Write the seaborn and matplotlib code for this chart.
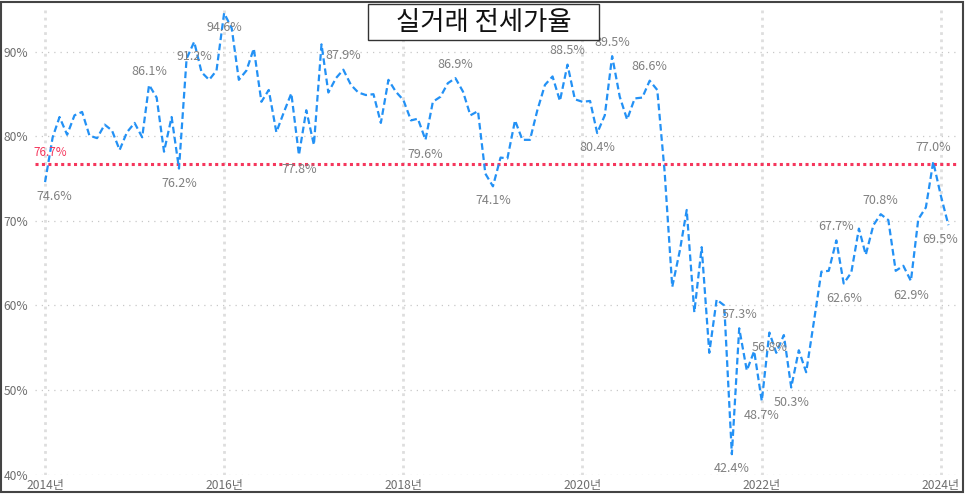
import matplotlib
matplotlib.use("Agg")
import matplotlib.pyplot as plt
from matplotlib.patches import Rectangle
import seaborn as sns
import pandas as pd

# ---- data (monthly, 2014-01 .. 2024-02) ----
values = [
    74.6, 79.9, 82.3, 80.2, 82.5, 82.9, 80.1, 79.8, 81.4, 80.7, 78.4, 80.5,   # 2014
    81.6, 79.9, 86.1, 84.6, 78.2, 82.3, 76.2, 89.2, 91.2, 87.6, 86.7, 87.8,   # 2015
    94.6, 92.8, 86.7, 87.8, 90.4, 84.1, 85.5, 80.5, 82.9, 85.1, 77.8, 83.1,   # 2016
    79.0, 90.9, 85.2, 86.9, 87.9, 86.1, 85.2, 84.9, 85.0, 81.6, 86.7, 85.3,   # 2017
    84.3, 81.9, 82.1, 79.6, 84.1, 84.7, 86.3, 86.9, 85.3, 82.5, 83.0, 75.6,   # 2018
    74.1, 77.5, 77.4, 81.9, 79.6, 79.6, 83.1, 86.1, 87.1, 84.2, 88.5, 84.4,   # 2019
    84.1, 84.2, 80.4, 82.5, 89.5, 84.7, 82.0, 84.5, 84.6, 86.6, 85.5, 75.8,   # 2020
    62.2, 66.5, 71.3, 59.2, 66.9, 54.4, 60.7, 60.0, 42.4, 57.3, 52.3, 54.6,   # 2021
    48.7, 56.8, 54.4, 56.5, 50.3, 54.7, 52.1, 58.0, 64.0, 64.1, 67.7, 62.6,   # 2022
    63.9, 69.1, 66.0, 69.5, 70.8, 70.1, 64.1, 64.7, 62.9, 70.2, 71.6, 77.0,   # 2023
    73.0, 69.5,                                                               # 2024
]
start_month = "2014-01-01"
avg_value = 76.7
title_text = "실거래 전세가율"
y_ticks = [40, 50, 60, 70, 80, 90]
x_tick_years = [2014, 2016, 2018, 2020, 2022, 2024]

label_idx = [0, 14, 18, 20, 24, 34, 40, 51, 55, 60, 70, 74, 76, 81,
             92, 93, 96, 97, 100, 106, 107, 112, 116, 119, 121]
label_pos = ['below', 'above', 'below', 'below', 'below', 'below', 'above',
             'below', 'above', 'below', 'above', 'below', 'above', 'above',
             'below', 'above', 'below', 'below', 'below', 'above', 'below',
             'above', 'below', 'above', 'below']

dates = pd.date_range(start_month, periods=len(values), freq="MS")
df = pd.DataFrame({"date": dates, "rate": values})

# ---- style ----
sns.set_theme(style="white")
plt.rcParams["font.family"] = ["Noto Sans CJK KR", "DejaVu Sans"]

fig = plt.figure(figsize=(9.66, 4.94), dpi=100)
ax = fig.add_axes([35 / 966, 19.5 / 494, (958 - 35) / 966, (486 - 19.5) / 494])

line_color = "#2391f5"
red = "#f5365c"
label_gray = "#808080"
tick_gray = "#6e6e6e"

sns.lineplot(data=df, x="date", y="rate", ax=ax, color=line_color,
             linewidth=1.6, zorder=3)
ax.lines[0].set_linestyle((0, (3, 1.6)))

ax.axhline(avg_value, color=red, linestyle=(0, (1, 1.1)), linewidth=2.2, zorder=2)
ax.text(-0.002, avg_value + 0.6, f"{avg_value:.1f}%", transform=ax.get_yaxis_transform(),
        color=red, fontsize=8.5, ha="left", va="bottom")

# labels
for i, pos in zip(label_idx, label_pos):
    dy = 10 if pos == "above" else -10.5
    dx = 0
    if i == 0:
        dx = 6.5
    if i == len(values) - 1:
        dx = -6
    ax.annotate(f"{values[i]:.1f}%", (dates[i], values[i]), xytext=(dx, dy),
                textcoords="offset points", ha="center", va="center",
                fontsize=9, color=label_gray, zorder=4)

# axes
ax.set_ylim(40, 95.2)
ax.set_xlim(pd.Timestamp("2013-11-21"), pd.Timestamp("2024-03-11"))
ax.set_yticks(y_ticks)
ax.set_yticklabels([f"{t}%" for t in y_ticks])
xt = [pd.Timestamp(f"{y}-01-01") for y in x_tick_years]
ax.set_xticks(xt)
ax.set_xticklabels([f"{y}년" for y in x_tick_years])
ax.set_xlabel("")
ax.set_ylabel("")
ax.tick_params(axis="both", length=0, colors=tick_gray, labelsize=8.7)
ax.tick_params(axis="x", pad=3)
ax.tick_params(axis="y", pad=5)
for s in ax.spines.values():
    s.set_visible(False)

for t in y_ticks:
    ax.axhline(t, color="#c8c8c8", linestyle=(0, (1, 4)), linewidth=0.9, zorder=0)
for x in xt:
    ax.axvline(x, color="#dedede", linestyle=(0, (1, 1.6)), linewidth=2.0, zorder=0)

# title box
fig.patches.append(Rectangle((368 / 966, 1 - 40 / 494), 231 / 966, 36 / 494,
                             transform=fig.transFigure, facecolor="white",
                             edgecolor="#333333", linewidth=1.0, zorder=10))
fig.text(483.5 / 966, 1 - 22 / 494, title_text, ha="center", va="center",
         fontsize=19, color="#111111", zorder=11)

# outer frame
fig.patches.append(Rectangle((1 / 966, 2 / 494), 962 / 966, 490 / 494,
                             transform=fig.transFigure, fill=False,
                             edgecolor="#444444", linewidth=1.5, zorder=12))

fig.savefig("out.png", dpi=100)
